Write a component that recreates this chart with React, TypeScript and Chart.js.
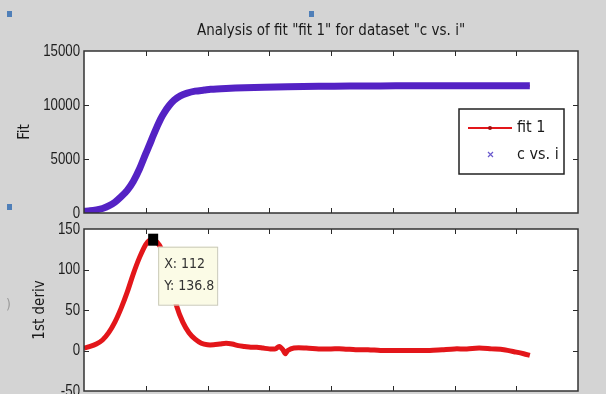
import React, { useEffect, useRef } from "react";
import { Chart, registerables } from "chart.js";

Chart.register(...registerables);

// ---------- data ----------
const titleText = 'Analysis of fit "fit 1" for dataset "c vs. i"';
const fitAxisLabel = "Fit";
const derivAxisLabel = "1st deriv";
const fitSeriesLabel = "fit 1";
const dataSeriesLabel = "c vs. i";

const xMin = 0;
const xMax = 800;
const xStep = 100;

const fitMin = 0;
const fitMax = 15000;
const fitStep = 5000;

const derivMin = -50;
const derivMax = 150;
const derivStep = 50;

const fitX = [0, 10, 20, 30, 40, 50, 60, 70, 80, 90, 100, 106, 112, 118, 124, 130, 138, 146, 156, 167, 180, 195, 205, 230, 260, 292, 330, 380, 430, 480, 530, 580, 630, 680, 722];
const fitY = [150, 200, 290, 420, 650, 1000, 1500, 2100, 2950, 4100, 5500, 6300, 7150, 7950, 8700, 9300, 9950, 10450, 10850, 11100, 11280, 11380, 11450, 11530, 11600, 11650, 11690, 11730, 11760, 11770, 11780, 11790, 11790, 11790, 11780];

const derivX = [0, 10, 20, 30, 40, 50, 60, 70, 80, 90, 100, 106, 112, 118, 125, 132, 140, 150, 160, 170, 180, 190, 200, 210, 220, 230, 240, 250, 260, 270, 280, 290, 300, 310, 316, 322, 326, 330, 340, 360, 380, 400, 420, 440, 460, 480, 500, 520, 540, 560, 580, 600, 620, 640, 660, 680, 700, 712, 722];
const derivY = [3, 5, 8, 13, 22, 35, 52, 72, 95, 115, 131, 136, 136.8, 134, 126, 110, 86, 55, 35, 22, 14, 9, 7, 7, 8, 9, 8, 6, 5, 4, 4, 3, 2, 2, 5, 1, -4, 0, 3, 3, 2, 2, 2, 1, 1, 0, 0, 0, 0, 0, 1, 2, 2, 3, 2, 1, -2, -4, -6];

const tipX = 112;
const tipY = 136.8;

// ---------- styles ----------
const FONT = '"Liberation Sans Narrow", "DejaVu Sans Condensed", "Liberation Sans", Arial, sans-serif';
const TICK_FONT = '"Liberation Sans", Arial, sans-serif';
const BG = "#d4d4d4";
const RED = "#e3161a";
const PURPLE = "#5422c4";
const INK = "#2a2a2a";

const framePlugin = {
  id: "frame",
  beforeDraw(chart: any) {
    const { ctx, chartArea: a } = chart;
    ctx.save();
    ctx.fillStyle = "#ffffff";
    ctx.fillRect(a.left, a.top, a.right - a.left, a.bottom - a.top);
    ctx.restore();
  },
  afterDatasetsDraw(chart: any) {
    const { ctx, chartArea: a, scales } = chart;
    const L = 5;
    ctx.save();
    ctx.strokeStyle = INK;
    ctx.lineWidth = 1;
    ctx.beginPath();
    scales.x.ticks.forEach((t: any) => {
      const px = Math.round(scales.x.getPixelForValue(t.value)) + 0.5;
      if (px <= a.left + 2 || px >= a.right - 2) return;
      ctx.moveTo(px, a.bottom);
      ctx.lineTo(px, a.bottom - L);
      ctx.moveTo(px, a.top);
      ctx.lineTo(px, a.top + L);
    });
    scales.y.ticks.forEach((t: any) => {
      const py = Math.round(scales.y.getPixelForValue(t.value)) + 0.5;
      if (py <= a.top + 2 || py >= a.bottom - 2) return;
      ctx.moveTo(a.left, py);
      ctx.lineTo(a.left + L, py);
      ctx.moveTo(a.right, py);
      ctx.lineTo(a.right - L, py);
    });
    ctx.stroke();
    ctx.lineWidth = 1.5;
    ctx.strokeStyle = "#333";
    ctx.strokeRect(a.left, a.top, a.right - a.left, a.bottom - a.top);
    ctx.restore();
  },
  afterDraw(chart: any) {
    // narrow y tick labels (MATLAB style)
    const { ctx, chartArea: a, scales } = chart;
    ctx.save();
    ctx.fillStyle = "#1e1e1e";
    ctx.font = `17px ${TICK_FONT}`;
    ctx.textAlign = "right";
    ctx.textBaseline = "middle";
    scales.y.ticks.forEach((t: any) => {
      const py = scales.y.getPixelForValue(t.value);
      ctx.save();
      ctx.translate(a.left - 4, py);
      ctx.scale(0.78, 1);
      ctx.fillText(String(t.value), 0, 0);
      ctx.restore();
    });
    ctx.restore();
  },
};

const legendPlugin = {
  id: "mlegend",
  afterDraw(chart: any) {
    const { ctx, chartArea: a } = chart;
    const ds = chart.data.datasets;
    const w = 105, h = 65;
    const x = a.right - 14 - w;
    const y = a.top + 58;
    ctx.save();
    ctx.fillStyle = "#ffffff";
    ctx.fillRect(x, y, w, h);
    ctx.strokeStyle = "#222";
    ctx.lineWidth = 1.5;
    ctx.strokeRect(x, y, w, h);
    const y1 = y + 19;
    ctx.strokeStyle = RED;
    ctx.lineWidth = 2;
    ctx.beginPath();
    ctx.moveTo(x + 9, y1);
    ctx.lineTo(x + 53, y1);
    ctx.stroke();
    ctx.fillStyle = "#a01010";
    ctx.beginPath();
    ctx.arc(x + 31, y1, 2, 0, Math.PI * 2);
    ctx.fill();
    ctx.fillStyle = "#1a1a1a";
    ctx.font = `16px ${FONT}`;
    ctx.textBaseline = "middle";
    ctx.textAlign = "left";
    ctx.fillText(ds[0].label, x + 58, y1);
    const y2 = y + 46;
    ctx.strokeStyle = "#6a5acd";
    ctx.lineWidth = 1.2;
    ctx.beginPath();
    ctx.moveTo(x + 29, y2 - 3);
    ctx.lineTo(x + 34, y2 + 2);
    ctx.moveTo(x + 34, y2 - 3);
    ctx.lineTo(x + 29, y2 + 2);
    ctx.stroke();
    ctx.fillStyle = "#1a1a1a";
    ctx.fillText(ds[1].label, x + 58, y2);
    ctx.restore();
  },
};

const tipPlugin = {
  id: "datatip",
  afterDraw(chart: any) {
    const { ctx, scales } = chart;
    const px = scales.x.getPixelForValue(tipX);
    const py = scales.y.getPixelForValue(tipY);
    ctx.save();
    const bx = px + 5, by = py + 7, bw = 59, bh = 58;
    ctx.fillStyle = "#fbfbe6";
    ctx.fillRect(bx, by, bw, bh);
    ctx.strokeStyle = "#c9c9b8";
    ctx.lineWidth = 1;
    ctx.strokeRect(bx + 0.5, by + 0.5, bw, bh);
    ctx.fillStyle = "#333";
    ctx.font = `14px ${FONT}`;
    ctx.textBaseline = "middle";
    ctx.textAlign = "left";
    ctx.fillText(`X: ${tipX}`, bx + 6, by + 18);
    ctx.fillText(`Y: ${tipY}`, bx + 6, by + 40);
    ctx.fillStyle = "#000";
    ctx.fillRect(px - 5, py - 6, 10, 12);
    ctx.restore();
  },
};

function baseOptions(yMin: number, yMax: number, yStep: number, yLabel: string, padTop: number, padBottom: number, withTitle: boolean, labelPad: number): any {
  return {
    responsive: false,
    animation: false,
    layout: { padding: { top: withTitle ? 0 : padTop, right: 28, bottom: padBottom, left: 0 } },
    plugins: {
      legend: { display: false },
      tooltip: { enabled: false },
      title: withTitle
        ? {
            display: true,
            fullSize: false,
            text: titleText,
            color: "#1a1a1a",
            font: { family: FONT, size: 15, weight: "normal" },
            padding: { top: 22, bottom: 11 },
          }
        : { display: false },
    },
    scales: {
      x: {
        type: "linear",
        min: xMin,
        max: xMax,
        ticks: { display: false, stepSize: xStep },
        grid: { display: false, drawTicks: false },
        border: { display: false },
        afterFit: (s: any) => {
          s.height = 0;
          s.paddingLeft = 0;
          s.paddingRight = 0;
        },
      },
      y: {
        type: "linear",
        min: yMin,
        max: yMax,
        ticks: { display: false, stepSize: yStep },
        grid: { display: false, drawTicks: false },
        border: { display: false },
        title: {
          display: true,
          text: yLabel,
          color: "#1a1a1a",
          font: { family: FONT, size: 15 },
          padding: { top: labelPad, bottom: 0 },
        },
        afterFit: (s: any) => {
          s.width = 84;
          s.paddingTop = 0;
          s.paddingBottom = 0;
        },
      },
    },
  };
}

export default function App() {
  const topRef = useRef<HTMLCanvasElement>(null);
  const botRef = useRef<HTMLCanvasElement>(null);

  useEffect(() => {
    const top = new Chart(topRef.current as HTMLCanvasElement, {
      type: "scatter",
      data: {
        datasets: [
          {
            label: fitSeriesLabel,
            data: fitX.map((x, i) => ({ x, y: fitY[i] })),
            showLine: true,
            borderColor: RED,
            backgroundColor: RED,
            borderWidth: 2,
            pointRadius: 0,
            order: 1,
          },
          {
            label: dataSeriesLabel,
            data: fitX.map((x, i) => ({ x, y: fitY[i] })),
            showLine: true,
            borderColor: PURPLE,
            backgroundColor: PURPLE,
            borderWidth: 7,
            pointRadius: 0,
            tension: 0.3,
            order: 0,
          },
        ],
      },
      options: baseOptions(fitMin, fitMax, fitStep, fitAxisLabel, 51, 9, true, 16),
      plugins: [framePlugin, legendPlugin],
    });

    const bot = new Chart(botRef.current as HTMLCanvasElement, {
      type: "scatter",
      data: {
        datasets: [
          {
            label: fitSeriesLabel,
            data: derivX.map((x, i) => ({ x, y: derivY[i] })),
            showLine: true,
            borderColor: RED,
            backgroundColor: RED,
            borderWidth: 5,
            pointRadius: 0,
            tension: 0.3,
          },
        ],
      },
      options: baseOptions(derivMin, derivMax, derivStep, derivAxisLabel, 7, 3, false, 31),
      plugins: [framePlugin, tipPlugin],
    });

    return () => {
      top.destroy();
      bot.destroy();
    };
  }, []);

  const handle = (left: number, top: number): React.CSSProperties => ({
    position: "absolute",
    left,
    top,
    width: 5,
    height: 6,
    background: "#4f7fb8",
  });

  return (
    <div style={{ position: "fixed", left: 0, top: 0, width: 606, height: 394, background: BG, overflow: "hidden" }}>
      <canvas ref={topRef} width={606} height={222} style={{ position: "absolute", left: 0, top: 0 }} />
      <canvas ref={botRef} width={606} height={172} style={{ position: "absolute", left: 0, top: 222 }} />
      <div style={handle(7, 11)} />
      <div style={handle(309, 11)} />
      <div style={handle(7, 204)} />
      <div style={{ position: "absolute", left: 6, top: 296, font: `14px ${FONT}`, color: "#9a9a9a" }}>)</div>
    </div>
  );
}
